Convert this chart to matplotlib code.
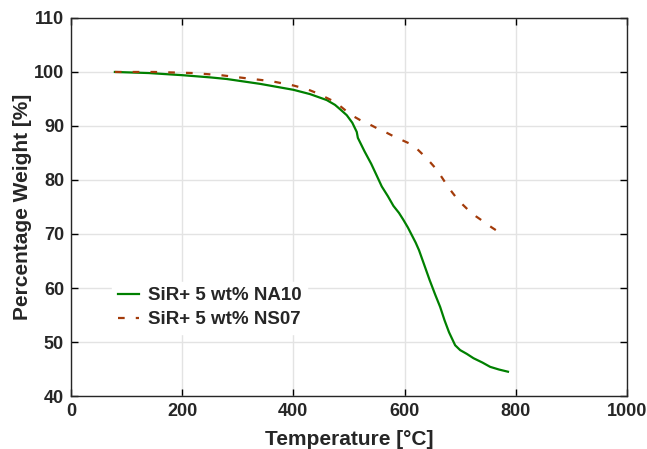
import numpy as np
import matplotlib.pyplot as plt

# TGA data
temp_na10 = [79, 140, 201, 250, 280, 340, 400, 430, 460, 475, 484, 496, 506, 514, 516,
             528, 540, 550, 559, 570, 580, 590, 598, 606, 612, 620, 626, 635, 645, 655,
             664, 672, 680, 691, 700, 712, 724, 740, 754, 770, 786]
wt_na10 = [100.0, 99.8, 99.4, 99.0, 98.7, 97.8, 96.7, 95.9, 94.8, 93.9, 93.1, 92.0, 90.6, 88.9, 87.8,
           85.3, 83.0, 80.8, 78.8, 77.0, 75.2, 73.9, 72.6, 71.2, 70.0, 68.4, 67.0, 64.4, 61.5, 58.8,
           56.5, 54.0, 51.8, 49.4, 48.5, 47.8, 47.0, 46.2, 45.4, 44.9, 44.5]

temp_ns07 = [79, 150, 220, 270, 310, 360, 400, 425, 442, 458, 470, 484, 496, 508, 520, 535,
             550, 565, 580, 595, 610, 622, 634, 646, 658, 667, 676, 685, 694, 705, 715, 728,
             742, 757, 772]
wt_ns07 = [100.0, 100.0, 99.8, 99.4, 98.9, 98.3, 97.5, 96.8, 96.1, 95.3, 94.7, 93.7, 92.7, 91.8, 91.1, 90.4,
           89.6, 88.9, 88.1, 87.4, 86.7, 85.8, 84.6, 83.3, 81.9, 80.5, 79.1, 77.8, 76.6, 75.4, 74.4, 73.3,
           72.3, 71.2, 70.2]

labels = ['SiR+ 5 wt% NA10', 'SiR+ 5 wt% NS07']

plt.rcParams['font.family'] = ['Liberation Sans', 'DejaVu Sans']
plt.rcParams['font.weight'] = 'bold'
text_col = '#262626'

fig = plt.figure(figsize=(6.47, 4.49), dpi=100)
ax = fig.add_axes([0.1097, 0.118, 0.8593, 0.842])

ax.plot(temp_na10, wt_na10, color='#008000', lw=1.6, label=labels[0])
ax.plot(temp_ns07, wt_ns07, color='#A33B0A', lw=1.6, dashes=(3, 5), label=labels[1])

ax.set_xlim(0, 1000)
ax.set_ylim(40, 110)
ax.set_xticks(np.arange(0, 1001, 200))
ax.set_yticks(np.arange(40, 111, 10))
ax.grid(True, color='#e3e3e3', lw=1)
ax.set_axisbelow(True)
ax.tick_params(direction='in', length=5, width=1, top=True, right=True,
               labelsize=13, labelcolor=text_col, pad=5)
for s in ax.spines.values():
    s.set_color('#262626')
    s.set_linewidth(1)

ax.set_xlabel('Temperature [°C]', fontsize=15, fontweight='bold', color=text_col, labelpad=7)
ax.set_ylabel('Percentage Weight [%]', fontsize=15, fontweight='bold', color=text_col, labelpad=1)

leg = ax.legend(loc='lower left', bbox_to_anchor=(0.057, 0.14), fontsize=13.5,
                frameon=True, framealpha=1, edgecolor='white', fancybox=False,
                handlelength=1.15, handletextpad=0.45, borderpad=0.3, labelspacing=0.35)
for t in leg.get_texts():
    t.set_color(text_col)

fig.savefig('out.png', dpi=100)
